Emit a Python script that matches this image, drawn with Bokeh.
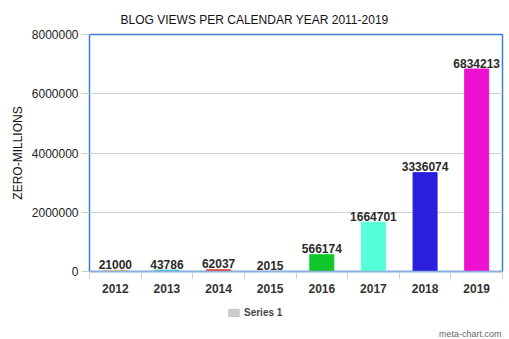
from bokeh.plotting import figure
from bokeh.layouts import column
from bokeh.models import (ColumnDataSource, FixedTicker, Range1d, Label, Legend, LegendItem)
from bokeh.core.properties import value
from bokeh.embed import file_html
from bokeh.resources import INLINE

years = ["2012", "2013", "2014", "2015", "2016", "2017", "2018", "2019"]
views = [21000, 43786, 62037, 2015, 566174, 1664701, 3336074, 6834213]
colors = ["#f4a31c", "#2ec4c4", "#e34a33", "#8c6bb1", "#11c62a", "#55ffd8", "#2a1fdc", "#ee11d0"]
y_ticks = [0, 2000000, 4000000, 6000000, 8000000]
title_text = "BLOG VIEWS PER CALENDAR YEAR 2011-2019"
y_label = "ZERO-MILLIONS"
series_name = "Series 1"
credit = "meta-chart.com"

FONT = "Liberation Sans"


def blank_figure(h):
    fig = figure(width=509, height=h, output_backend="svg", toolbar_location=None,
                 x_axis_location=None, y_axis_location=None,
                 x_range=Range1d(0, 1), y_range=Range1d(0, 1),
                 min_border_left=89, min_border_right=7, min_border_top=0, min_border_bottom=0)
    fig.outline_line_color = None
    fig.xgrid.visible = False
    fig.ygrid.visible = False
    fig.border_fill_color = "white"
    fig.background_fill_color = "white"
    return fig


# header with the title (frame spans x 89..502)
h = blank_figure(27)
h.add_layout(Label(x=165, y=8, x_units="screen", y_units="screen", text=title_text,
                   text_align="center", text_baseline="alphabetic", text_font=FONT,
                   text_font_size="12px", text_color="#111111"))

xs = [i + 0.5 for i in range(len(years))]
src = ColumnDataSource(dict(x=xs, top=views, color=colors, label=[str(v) for v in views]))

p = figure(width=509, height=273, output_backend="svg", toolbar_location=None,
           x_range=Range1d(0, len(years)), y_range=Range1d(0, 8000000),
           min_border_left=89, min_border_right=7, min_border_top=7, min_border_bottom=29)
p.title = None
p.background_fill_color = "white"
p.border_fill_color = "white"
p.outline_line_color = "#3b7fd9"
p.outline_line_width = 1.5

p.vbar(x="x", top="top", width=0.465, bottom=0, fill_color="color", line_color="color", source=src)
p.text(x="x", y="top", text="label", source=src, text_align="center", text_baseline="alphabetic",
       y_offset=-6, text_font=value(FONT), text_font_size="12px", text_font_style="bold",
       text_color="#2a2a2a")

# x axis
p.xaxis.ticker = FixedTicker(ticks=xs, minor_ticks=list(range(len(years) + 1)))
p.xaxis.major_label_overrides = {x: y for x, y in zip(xs, years)}
p.xaxis.major_tick_out = 0
p.xaxis.major_tick_in = 0
p.xaxis.minor_tick_out = 7
p.xaxis.minor_tick_in = 0
p.xaxis.minor_tick_line_color = "#cccccc"
p.xaxis.axis_line_color = "#8fb0dc"
p.xaxis.axis_line_width = 1.5
p.xaxis.major_label_standoff = 5
p.xaxis.major_label_text_font = FONT
p.xaxis.major_label_text_font_size = "12px"
p.xaxis.major_label_text_font_style = "bold"
p.xaxis.major_label_text_color = "#333333"
p.xgrid.visible = False

# y axis
p.yaxis.ticker = FixedTicker(ticks=y_ticks)
p.yaxis.formatter.use_scientific = False
p.yaxis.major_tick_out = 8
p.yaxis.major_tick_in = 0
p.yaxis.minor_tick_line_color = None
p.yaxis.major_tick_line_color = "#cccccc"
p.yaxis.axis_line_color = None
p.yaxis.major_label_standoff = 3
p.yaxis.major_label_text_font = FONT
p.yaxis.major_label_text_font_size = "12px"
p.yaxis.major_label_text_color = "#222222"
p.yaxis.axis_label = y_label
p.yaxis.axis_label_text_font = FONT
p.yaxis.axis_label_text_font_size = "12px"
p.yaxis.axis_label_text_font_style = "normal"
p.yaxis.axis_label_text_color = "#111111"
p.yaxis.axis_label_standoff = 4
p.ygrid.grid_line_color = "#d0d0d0"
p.ygrid.ticker = FixedTicker(ticks=y_ticks[1:-1])

# footer with legend and credit
f = blank_figure(39)
# legend proxy renderer: one point placed outside the visible range
dummy = f.vbar(x=[5], top=[5], bottom=[4], width=0.5, fill_color="#cccccc", line_color="#c4c4c4")
legend = Legend(items=[LegendItem(label=series_name, renderers=[dummy])], location=(138, 21),
                padding=0, margin=0, border_line_color=None, background_fill_alpha=0,
                glyph_width=13, glyph_height=9, label_standoff=4, label_text_font=FONT,
                label_text_font_size="10px", label_text_font_style="bold", label_text_color="#444444",
                label_height=9)
f.add_layout(legend, "center")
f.add_layout(Label(x=412, y=6, x_units="screen", y_units="screen", text=credit,
                   text_align="right", text_baseline="alphabetic", text_font=FONT,
                   text_font_size="9px", text_color="#666666"))

layout = column(h, p, f, spacing=0)
open("out.html", "w").write(file_html(layout, INLINE))
